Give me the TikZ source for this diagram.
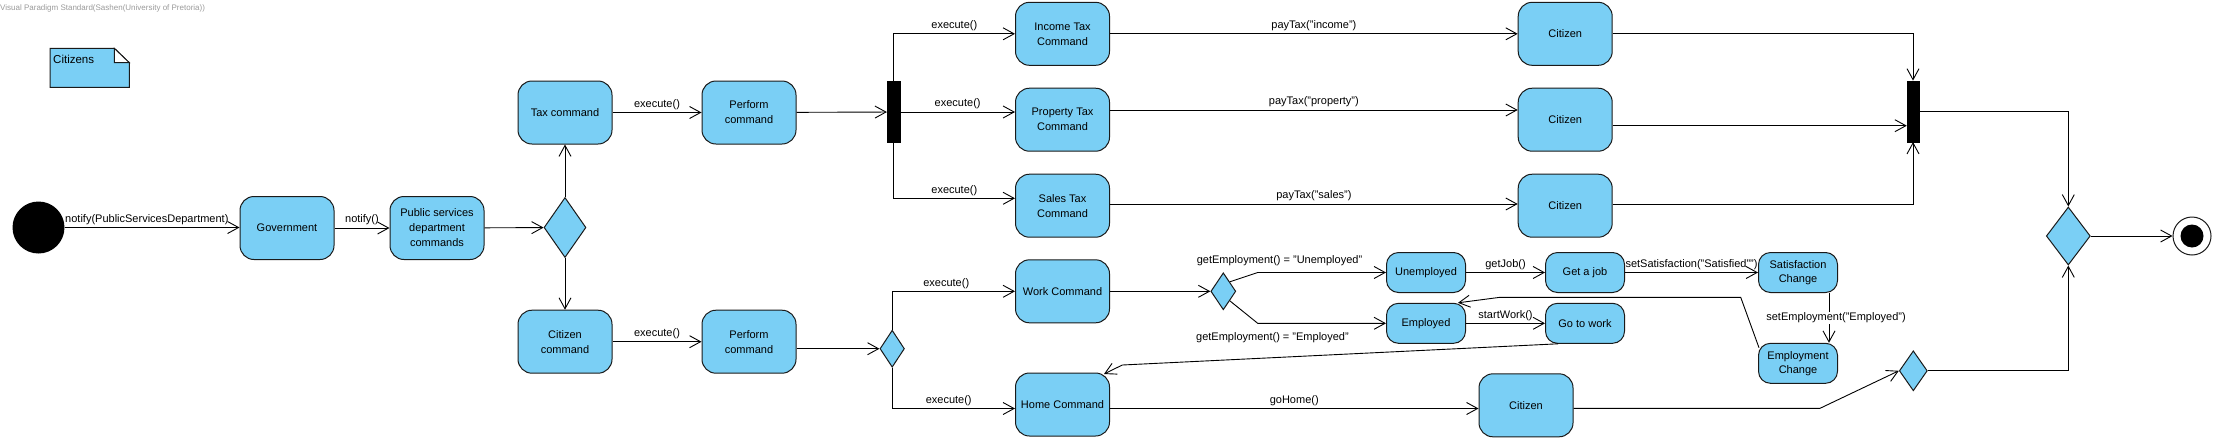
\documentclass[tikz,border=0pt]{standalone}
\usepackage{fontspec}
\setmainfont{Liberation Sans}
\usetikzlibrary{shapes.geometric, arrows.meta, positioning}
\definecolor{vpblue}{HTML}{7ACFF5}
\definecolor{vpline}{HTML}{1A1A1A}
\definecolor{vpgrey}{HTML}{9A9A9A}

\begin{document}
\begin{tikzpicture}[x=1pt, y=-1pt, font=\fontsize{11}{15}\selectfont, >={Straight Barb[length=11pt,width=12pt]}]
\tikzstyle{action} = [rectangle, rounded corners=14pt, minimum width=94pt, minimum height=63pt, inner sep=1pt, text centered, align=center, draw=vpline, fill=vpblue, line width=1pt]
\tikzstyle{smallaction} = [action, rounded corners=12pt, minimum width=79pt, minimum height=40pt, font=\fontsize{11}{14}\selectfont]
\tikzstyle{decision} = [diamond, draw=vpline, fill=vpblue, inner sep=0pt, line width=1pt]
\tikzstyle{syncbar} = [rectangle, draw=black, fill=black, inner sep=0pt, minimum width=12pt, minimum height=61pt]
\tikzstyle{flow} = [->, line width=0.9pt]
\tikzstyle{guard} = [font=\fontsize{11}{13}\selectfont, inner sep=2.5pt]

\useasboundingbox (0,0) rectangle (2215,440);

\node (title) [anchor=west, inner sep=0pt, text=vpgrey, font=\fontsize{8}{9}\selectfont] at (0,8.3) {Visual Paradigm Standard(Sashen(University of Pretoria))};

\filldraw[fill=vpblue, draw=vpline, line width=1pt] (50,48.3) -- (114.3,48.3) -- (129.3,62.7) -- (129.3,87.3) -- (50,87.3) -- cycle;
\filldraw[fill=white, draw=vpline, line width=1pt] (114.3,48.3) -- (114.3,62.7) -- (129.3,62.7) -- cycle;
\node (note) [anchor=west, inner sep=0pt, font=\fontsize{11.5}{13}\selectfont] at (53,59) {Citizens};

\node (start) [circle, fill=black, minimum size=52pt, inner sep=0pt] at (38.5,227.5) {};
\node (gov) [action] at (287,228) {Government};
\node (psdc) [action] at (437,228) {Public services\\department\\commands};
\node (split) [decision, minimum width=42pt, minimum height=60pt] at (565,227.5) {};
\node (taxcmd) [action] at (565,112.5) {Tax command};
\node (citcmd) [action] at (565,341.7) {Citizen\\command};
\node (perftax) [action] at (749,112.5) {Perform\\command};
\node (perfcit) [action] at (749,341.7) {Perform\\command};
\node (fork) [syncbar, minimum width=13pt] at (893.6,112) {};

\node (income) [action] at (1062.5,33.8) {Income Tax\\Command};
\node (property) [action] at (1062.5,119.7) {Property Tax\\Command};
\node (sales) [action] at (1062.5,205.7) {Sales Tax\\Command};
\node (cit1) [action] at (1565.2,33.8) {Citizen};
\node (cit2) [action] at (1565.2,119.7) {Citizen};
\node (cit3) [action] at (1565.2,205.7) {Citizen};
\node (join) [syncbar] at (1913,111.3) {};
\node (merge) [decision, minimum width=44pt, minimum height=58pt] at (2068.3,236) {};
\node (final) [circle, draw=vpline, fill=white, line width=1pt, minimum size=38pt, inner sep=0pt] at (2192,236) {};
\node (finaldot) [circle, fill=black, minimum size=23pt, inner sep=0pt] at (final) {};

\node (route) [decision, minimum width=24.5pt, minimum height=37pt] at (892.2,348.7) {};
\node (work) [action] at (1062.5,291.3) {Work Command};
\node (home) [action] at (1062.5,404.5) {Home Command};
\node (status) [decision, minimum width=25pt, minimum height=37pt] at (1223.3,291.3) {};
\node (unemp) [smallaction] at (1426,272.5) {Unemployed};
\node (employed) [smallaction] at (1426,323.3) {Employed};
\node (getjob) [smallaction] at (1585,272.5) {Get a job};
\node (gowork) [smallaction] at (1585,323.3) {Go to work};
\node (satchg) [smallaction] at (1798,272.5) {Satisfaction\\Change};
\node (empchg) [smallaction] at (1798,363.3) {Employment\\Change};
\node (cit4) [action] at (1526,405.3) {Citizen};
\node (back) [decision, minimum width=28pt, minimum height=40pt] at (1913.3,370.8) {};

\coordinate (ubend) at (1257.7,272.5);
\coordinate (ebend) at (1257.7,323.3);
\coordinate (eb1) at (1740.7,297.3);
\coordinate (eb2) at (1500,297.3);
\coordinate (hb) at (1122.3,365);
\coordinate (cb) at (1820,408.3);

\draw[flow] (start.east) -- node[guard, above, pos=0.47] {notify(PublicServicesDepartment)} (start.east -| gov.west);
\draw[flow] (gov) -- node[guard, above] {notify()} (psdc);
\draw[flow] (psdc) -- (split);
\draw[flow] (split) -- (taxcmd);
\draw[flow] (split) -- (citcmd);
\draw[flow] (taxcmd) -- node[guard, above] {execute()} (perftax);
\draw[flow] (citcmd) -- node[guard, above] {execute()} (perfcit);
\draw[flow] (perftax) -- (fork);
\draw[flow] (fork.north) |- node[guard, above, pos=0.75] {execute()} (income.west);
\draw[flow] (fork.east) -- node[guard, above] {execute()} (fork.east -| property.west);
\draw[flow] (fork.south) |- node[guard, above, pos=0.75] {execute()} ([yshift=7.4pt]sales.west);

\draw[flow] (income) -- node[guard, above] {payTax("income")} (cit1);
\draw[flow] ([yshift=9.7pt]property.east) -- node[guard, above] {payTax("property")} ([yshift=9.7pt]cit2.west);
\draw[flow] ([yshift=1.7pt]sales.east) -- node[guard, above] {payTax("sales")} ([yshift=1.7pt]cit3.west);
\draw[flow] (cit1.east) -| (join.north);
\draw[flow] ([yshift=-6pt]cit2.east) -- ([yshift=-6pt]cit2.east -| join.west);
\draw[flow] ([yshift=1.7pt]cit3.east) -| (join.south);
\draw[flow] (join.east) -| (merge.north);
\draw[flow] (merge) -- (final);

\draw[flow] (perfcit.east |- route.west) -- (route.west);
\draw[flow] (route.north) |- node[guard, above, pos=0.72] {execute()} (work.west);
\draw[flow] (route.south) |- node[guard, above, pos=0.73] {execute()} ([yshift=-4pt]home.west);
\draw[flow] (work) -- (status);
\draw[flow] (status.north east) -- (ubend) -- node[guard, above, pos=0.17, yshift=4pt] {getEmployment() = "Unemployed"} (unemp.west);
\draw[flow] (status.south east) -- (ebend) -- node[guard, below, pos=0.115, yshift=-6.5pt] {getEmployment() = "Employed"} (employed.west);
\draw[flow] (unemp) -- node[guard, above] {getJob()} (getjob);
\draw[flow] (employed) -- node[guard, above] {startWork()} (gowork);
\draw[flow] (getjob) -- node[guard, above] {setSatisfaction("Satisfied"")} (satchg);
\draw[flow] ([xshift=-9pt]satchg.south east) -- node[guard, fill=white, inner sep=0.5pt, xshift=7pt] {setEmployment("Employed")} ([xshift=-9pt]empchg.north east);
\draw[flow] ([shift={(1pt,-5pt)}]empchg.north west) -- (eb1) -- (eb2) -- ([xshift=-8pt]employed.north east);
\draw[flow] ([xshift=13pt]gowork.south west) -- (hb) -- ([xshift=-6pt, yshift=-1.5pt]home.north east);
\draw[flow] ([yshift=-4pt]home.east) -- node[guard, above] {goHome()} ([yshift=-4pt]home.east -| cit4.west);
\draw[flow] ([yshift=-3pt]cit4.east) -- (cb) -- (back.west);
\draw[flow] (back.east) -| (merge.south);

\end{tikzpicture}
\end{document}
